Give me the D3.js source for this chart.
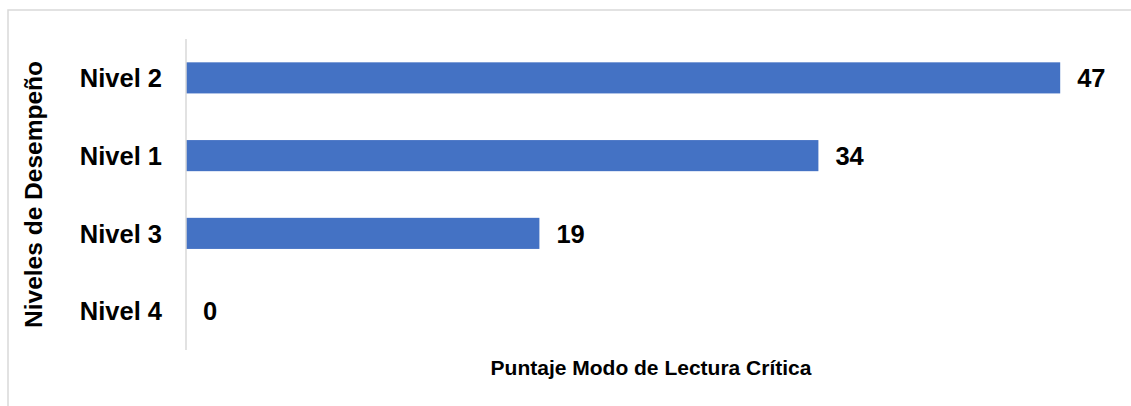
<!DOCTYPE html>
<html>
<head>
<meta charset="utf-8">
<script src="https://cdn.jsdelivr.net/npm/d3@7"></script>
<style>
  body { margin: 0; background: #fff; }
  text { font-family: "Liberation Sans", Arial, sans-serif; font-weight: bold; fill: #000; }
</style>
</head>
<body>
<div id="chart"></div>
<script>
// Data, top to bottom as drawn
const categories = ["Nivel 2", "Nivel 1", "Nivel 3", "Nivel 4"];
const values = [47, 34, 19, 0];
const xDomainMax = 50;
const yTitle = "Niveles de Desempeño";
const xTitle = "Puntaje Modo de Lectura Crítica";

const width = 1131;
const height = 406;

const svg = d3.select("#chart")
  .append("svg")
  .attr("width", width)
  .attr("height", height);

// chart frame (only left and top edges visible in the crop)
svg.append("rect")
  .attr("x", 8)
  .attr("y", 10)
  .attr("width", 1200)
  .attr("height", 500)
  .attr("fill", "none")
  .attr("stroke", "#d9d9d9")
  .attr("stroke-width", 1.5);

const x = d3.scaleLinear()
  .domain([0, xDomainMax])
  .range([186, 1116]);

const y = d3.scaleBand()
  .domain(categories)
  .range([39, 350])
  .paddingInner(0.6)
  .paddingOuter(0.3);

const rows = categories.map((c, i) => ({ cat: c, value: values[i] }));

// Bars
svg.selectAll(".bar")
  .data(rows)
  .enter()
  .append("rect")
  .attr("class", "bar")
  .attr("x", x(0))
  .attr("y", d => y(d.cat))
  .attr("width", d => x(d.value) - x(0))
  .attr("height", y.bandwidth())
  .attr("fill", "#4472c4");

// Vertical axis line
svg.append("line")
  .attr("x1", x(0))
  .attr("x2", x(0))
  .attr("y1", 39)
  .attr("y2", 350)
  .attr("stroke", "#d9d9d9")
  .attr("stroke-width", 1.5);

// Category labels
svg.selectAll(".cat")
  .data(rows)
  .enter()
  .append("text")
  .attr("class", "cat")
  .attr("x", x(0) - 24)
  .attr("y", d => y(d.cat) + y.bandwidth() / 2)
  .attr("dy", "0.36em")
  .attr("text-anchor", "end")
  .attr("font-size", 25.5)
  .text(d => d.cat);

// Value labels
svg.selectAll(".val")
  .data(rows)
  .enter()
  .append("text")
  .attr("class", "val")
  .attr("x", d => x(d.value) + 17)
  .attr("y", d => y(d.cat) + y.bandwidth() / 2)
  .attr("dy", "0.36em")
  .attr("font-size", 25.5)
  .text(d => d.value);

// Axis titles
svg.append("text")
  .attr("transform", `translate(42, ${(39 + 350) / 2}) rotate(-90)`)
  .attr("text-anchor", "middle")
  .attr("font-size", 24.5)
  .text(yTitle);

svg.append("text")
  .attr("x", (x.range()[0] + x.range()[1]) / 2)
  .attr("y", 375)
  .attr("text-anchor", "middle")
  .attr("font-size", 21)
  .text(xTitle);
</script>
</body>
</html>
